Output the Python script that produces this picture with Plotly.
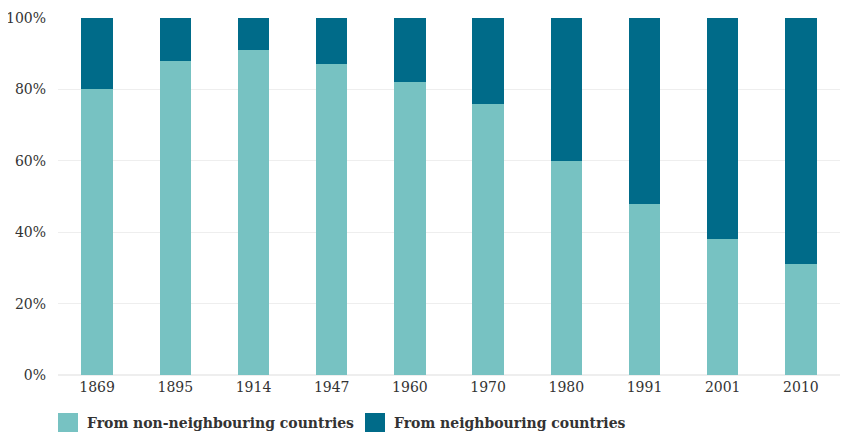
import plotly.graph_objects as go

years = ["1869", "1895", "1914", "1947", "1960", "1970", "1980", "1991", "2001", "2010"]
non_neighbouring = [80, 88, 91, 87, 82, 76, 60, 48, 38, 31]
neighbouring = [100 - v for v in non_neighbouring]
series_names = ["From non-neighbouring countries", "From neighbouring countries"]
series_colors = ["#77C2C2", "#006B89"]

font = "DejaVu Serif"
OFF = 8  # default page body margin
W, H = 868 - OFF, 434 - OFF
ml, mr, mt, mb = 58 - OFF, 28, 18 - OFF, 59

fig = go.Figure()
for vals, name, col in zip([non_neighbouring, neighbouring], series_names, series_colors):
    fig.add_trace(go.Bar(x=years, y=vals, name=name,
                         marker=dict(color=col, line=dict(width=0))))

# custom legend (larger squares than plotly's default legend symbols)
pw = W - ml - mr
ph = H - mt - mb
def px_x(p):
    return (p - OFF - ml) / pw
def px_y(p):
    return (H - mb - (p - OFF)) / ph

legend_x = [58, 365]
for lx, name, col in zip(legend_x, series_names, series_colors):
    fig.add_shape(type="rect", xref="paper", yref="paper",
                  x0=px_x(lx), x1=px_x(lx + 20), y0=px_y(432), y1=px_y(413),
                  fillcolor=col, line=dict(width=0))
    fig.add_annotation(xref="paper", yref="paper", x=px_x(lx + 27), y=px_y(423),
                       xanchor="left", yanchor="middle", showarrow=False,
                       text=f"<b>{name}</b>",
                       font=dict(family=font, size=14, color="#333333"))

fig.update_layout(
    barmode="stack",
    bargap=0.6,
    width=W, height=H,
    margin=dict(l=ml, r=mr, t=mt, b=mb, autoexpand=False),
    plot_bgcolor="white", paper_bgcolor="white",
    font=dict(family=font, size=14, color="#333333"),
    showlegend=False,
    xaxis=dict(showgrid=False, showline=False, ticks="", tickfont=dict(size=14),
               automargin=False, ticklabelstandoff=2),
    yaxis=dict(range=[0, 100], tickvals=[0, 20, 40, 60, 80, 100],
               ticktext=["0%", "20%", "40%", "60%", "80%", "100%"],
               showgrid=True, gridcolor="#EEEEEE", gridwidth=1, zeroline=True,
               zerolinecolor="#EEEEEE", ticks="", ticklabelstandoff=11,
               tickfont=dict(size=14), automargin=False),
)

fig.write_html("out.html")
